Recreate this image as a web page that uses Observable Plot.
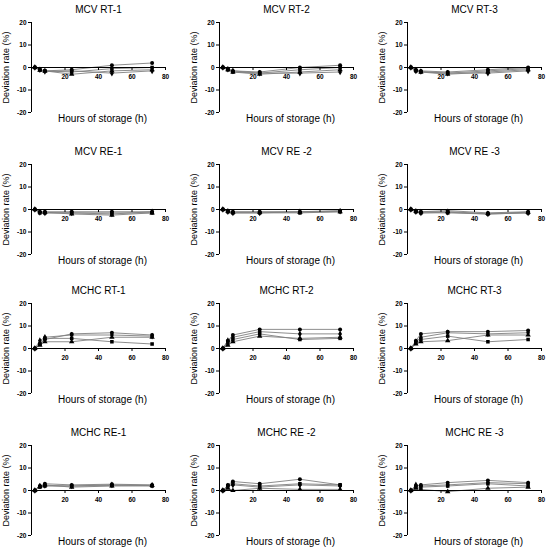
<!DOCTYPE html>
<html>
<head>
<meta charset="utf-8">
<script src="https://cdn.jsdelivr.net/npm/d3@7"></script>
<script src="https://cdn.jsdelivr.net/npm/@observablehq/plot@0.6"></script>
<style>
  body { margin: 0; background: #fff; }
  #root { position: relative; width: 550px; height: 552px; overflow: hidden; background: #fff; }
  .panel { position: absolute; }
</style>
</head>
<body>
<div id="root"></div>
<script>
// ---- data ----
const hours = [2, 5, 8, 24, 48, 72];
const seriesNames = ["A", "B", "C", "D"];
const seriesSymbols = ["circle", "square", "triangle", "diamond"];
const xTicks = [20, 40, 60, 80];
const yTicks = [-20, -10, 0, 10, 20];
const xDomain = [0, 80];
const yDomain = [-20, 20];
const xLabel = "Hours of storage (h)";
const yLabel = "Deviation rate (%)";

const titles = [
  "MCV RT-1", "MCV RT-2", "MCV RT-3",
  "MCV RE-1", "MCV RE -2", "MCV RE -3",
  "MCHC RT-1", "MCHC RT-2", "MCHC RT-3",
  "MCHC RE-1", "MCHC RE -2", "MCHC RE -3"
];

// each panel: one array per series (circle, square, triangle, diamond), values at `hours`
const mcvRT1 = [[0, -1, -1.5, -1, 1, 2], [0, -1, -1.5, -2, -0.5, 0], [0, -1.2, -1.5, -3, -1.5, -1], [0, -1, -1.8, -1.5, -2.5, -1.5]];
const mcvRT2 = [[0, -0.5, -1.5, -2, 0, 1], [0, -1, -2, -2.5, -1, 0], [0, -1, -2, -3, -2, -1], [0, -0.8, -1.5, -2.5, -2.5, -2]];
const mcvRT3 = [[0, -1, -1.5, -2, -1, 0], [0, -1.5, -2, -2.5, -1.5, -0.5], [0, -1, -2, -3, -2, -1], [0, -1.5, -1.8, -2.5, -2.5, -1.5]];
const mcvRE1 = [[0, -1, -1, -1, -1, -1], [0, -1.5, -1.5, -1.5, -1.5, -1.5], [0, -1, -1.2, -2, -2.5, -1.5], [0, -1.3, -1.5, -1.5, -2, -1]];
const mcvRE2 = [[0, -0.5, -1, -1, -1, -0.5], [0, -1, -1.5, -1.5, -1.5, -1], [0, -0.8, -1.2, -1.2, -1.2, -1], [0, -1, -1.5, -1.5, -1, -0.8]];
const mcvRE3 = [[0, -0.5, -1, -0.5, -1.5, -1], [0, -1, -1.5, -1.5, -2, -1.5], [0, -0.8, -1, -1, -1.8, -1.2], [0, -1, -1.5, -1.2, -2, -1.5]];
const mchcRT1 = [[0, 2, 4, 6.5, 7, 6], [0, 2, 4.5, 4.5, 3, 2], [0, 1.5, 3, 3, 5, 5], [0, 3.5, 5, 6, 6, 5.5]];
const mchcRT2 = [[0, 3.5, 6, 8.5, 8.5, 8.5], [0, 2.5, 4, 6.5, 4, 4.5], [0, 1.5, 3, 5.5, 4.5, 5], [0, 3.5, 5, 7.5, 6.5, 6.5]];
const mchcRT3 = [[0, 3.5, 6.5, 7.5, 7.5, 8], [0, 2.5, 4, 5.5, 3, 4], [0, 2, 3, 3.5, 6, 6], [0, 3, 5, 7, 6.5, 7]];
const mchcRE1 = [[0, 2, 3, 2.5, 2.8, 2.5], [0, 1.5, 2, 2, 2.2, 2], [0, 1.8, 2.5, 1.5, 2, 2.2], [0, 2, 2.2, 2, 2.5, 2.3]];
const mchcRE2 = [[0, 2.5, 4, 3, 5, 2.5], [0, 2, 3, 2, 3, 2.5], [0, 1, 0, 1, 0.5, 0.5], [0, 2, 2.5, 1.5, 2.5, 2]];
const mchcRE3 = [[0, 2, 2.5, 3.5, 4.5, 3.5], [0, 1.5, 1.5, 2, 3, 2], [0, 1, 0.5, -0.5, 1, 1.5], [0, 2.5, 2, 2.5, 3.5, 3]];

const panelData = [mcvRT1, mcvRT2, mcvRT3, mcvRE1, mcvRE2, mcvRE3, mchcRT1, mchcRT2, mchcRT3, mchcRE1, mchcRE2, mchcRE3];

// ---- layout ----
const colLeft = [0, 188, 376];
const rowTop = [0, 142, 281, 423];
const font = "'Liberation Sans', Arial, sans-serif";
const baseline = 0;

const root = document.getElementById("root");

panelData.forEach((series, p) => {
  const rows = [];
  series.forEach((vals, s) => vals.forEach((v, i) => rows.push({hour: hours[i], value: v, series: seriesNames[s]})));

  const chart = Plot.plot({
    width: 173,
    height: 132,
    marginLeft: 31,
    marginRight: 8,
    marginTop: 22,
    marginBottom: 20,
    style: {fontFamily: font, color: "#000", background: "transparent", overflow: "visible"},
    x: {domain: xDomain, axis: null},
    y: {domain: yDomain, axis: null},
    symbol: {domain: seriesNames, range: seriesSymbols},
    marks: [
      Plot.line(rows, {x: "hour", y: "value", z: "series", stroke: "#808080", strokeWidth: 0.9}),
      Plot.ruleX([xDomain[0]], {stroke: "#000", strokeWidth: 1}),
      Plot.ruleY([baseline], {stroke: "#000", strokeWidth: 1}),
      Plot.ruleX(xTicks, {x: d => d, y1: baseline, y2: baseline, insetBottom: -3, stroke: "#000", strokeWidth: 1}),
      Plot.text(xTicks, {x: d => d, y: baseline, text: d => String(d), dy: 9, fontSize: 6.5, fontWeight: "bold", fill: "#000"}),
      Plot.axisY(yTicks, {tickSize: 3, tickPadding: 2, fontSize: 6.5, fontWeight: "bold", tickFormat: d => String(d), label: null, stroke: "#000", fill: "#000"}),
      Plot.dot(rows, {x: "hour", y: "value", symbol: "series", fill: "#000", stroke: "none", r: 2}),
      Plot.text([titles[p]], {text: d => d, frameAnchor: "top", lineAnchor: "middle", dy: -13, fontSize: 10, fill: "#000"}),
      Plot.text([xLabel], {text: d => d, frameAnchor: "bottom", lineAnchor: "middle", dy: 6, dx: 4, fontSize: 10, fill: "#000"}),
      Plot.text([yLabel], {text: d => d, frameAnchor: "left", textAnchor: "middle", lineAnchor: "middle", dx: -25, rotate: -90, fontSize: 9, fill: "#000"})
    ]
  });
  const div = document.createElement("div");
  div.className = "panel";
  div.style.left = colLeft[p % 3] + "px";
  div.style.top = rowTop[Math.floor(p / 3)] + "px";
  div.appendChild(chart);
  root.appendChild(div);
});
</script>
</body>
</html>
